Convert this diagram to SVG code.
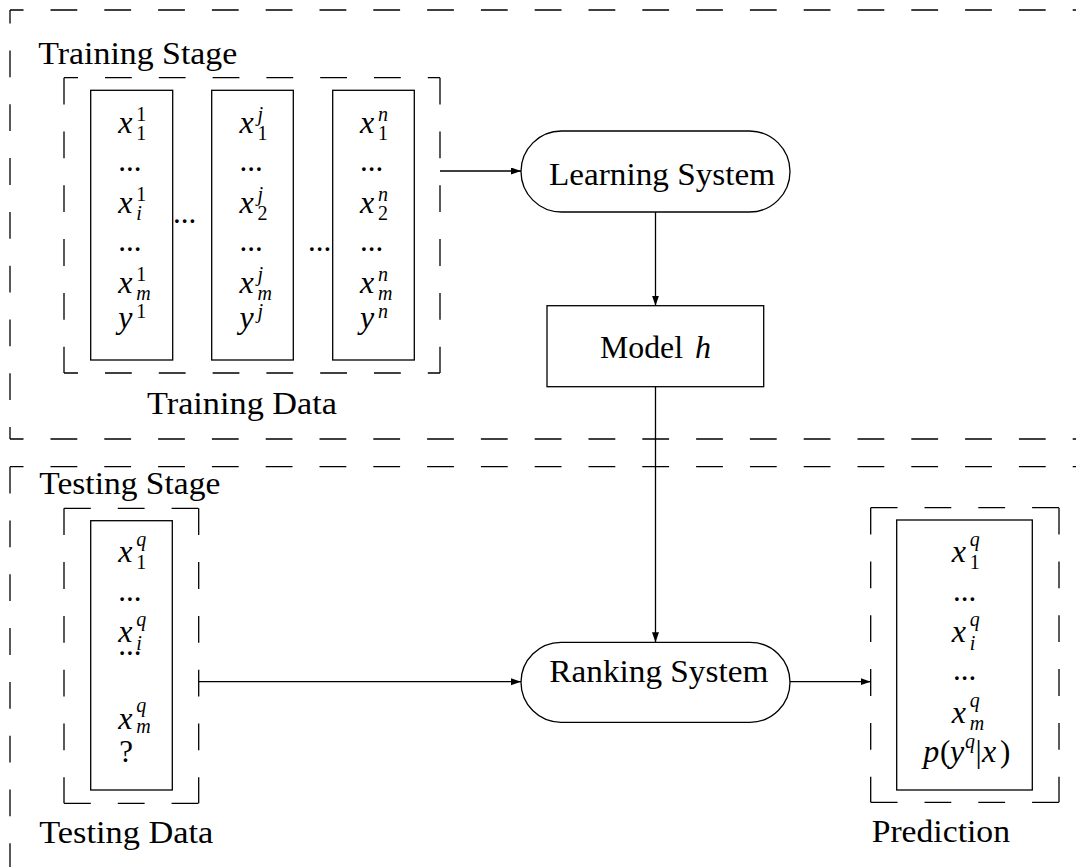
<svg xmlns="http://www.w3.org/2000/svg" width="1076" height="867" viewBox="0 0 1076 867">
<defs>
<style>
text{font-family:"Liberation Serif","DejaVu Serif",serif;fill:#000}
.lbl{font-size:32px}
.m{font-size:32px;font-style:italic}
.n{font-size:31px}
.si{font-size:20px;font-style:italic}
.sn{font-size:20px}
.d{stroke:#000;stroke-width:1.3;stroke-dasharray:26.8 27;fill:none}
.box{fill:#fff;stroke:#000;stroke-width:1.3}
.node{fill:#fff;stroke:#000;stroke-width:1.3}
.c{stroke:#000;stroke-width:1.3;fill:none}
</style>
<marker id="arr" markerUnits="userSpaceOnUse" markerWidth="11" markerHeight="8" refX="10" refY="3.5" orient="auto">
<path d="M0,0 L10,3.5 L0,7 Z" fill="#000"/>
</marker>
</defs>
<rect width="1076" height="867" fill="#fff"/>

<g id="training-stage">
<line class="d" x1="10" y1="10" x2="1100" y2="10" stroke-dashoffset="13.3"/>
<line class="d" x1="10" y1="10" x2="10" y2="439" stroke-dashoffset="13.3"/>
<line class="d" x1="10" y1="439" x2="1100" y2="439" stroke-dashoffset="13.3"/>
<text class="lbl" x="38.3" y="64" textLength="199" lengthAdjust="spacingAndGlyphs">Training Stage</text>
</g>

<g id="testing-stage">
<line class="d" x1="10" y1="466.7" x2="1100" y2="466.7" stroke-dashoffset="13.3"/>
<line class="d" x1="10" y1="466.7" x2="10" y2="900"/>
<text class="lbl" x="39.3" y="494" textLength="181" lengthAdjust="spacingAndGlyphs">Testing Stage</text>
</g>

<g id="training-data">
<line class="d" x1="64" y1="77.7" x2="440" y2="77.7" stroke-dashoffset="12.8"/>
<line class="d" x1="64" y1="373" x2="440" y2="373" stroke-dashoffset="12.8"/>
<line class="d" x1="64" y1="77.7" x2="64" y2="373"/>
<line class="d" x1="440" y1="77.7" x2="440" y2="373"/>
<rect class="box" x="90.7" y="90.3" width="82" height="269.7"/>
<rect class="box" x="211.7" y="90.3" width="81.6" height="269.7"/>
<rect class="box" x="332.7" y="90.3" width="81.6" height="269.7"/>
<text class="m" x="118.3" y="133">x</text><text class="sn" x="136.3" y="121.3">1</text><text class="sn" x="136.3" y="139.5">1</text>
<text class="n" x="118.3" y="171">...</text>
<text class="m" x="118.3" y="213">x</text><text class="sn" x="136.3" y="201.3">1</text><text class="si" x="136.3" y="219.7">i</text>
<text class="n" x="118.3" y="251">...</text>
<text class="m" x="118.3" y="293">x</text><text class="sn" x="136.3" y="281.3">1</text><text class="si" x="136.3" y="299.7">m</text>
<text class="m" x="118.3" y="328">y</text><text class="sn" x="136.3" y="318">1</text>
<text class="m" x="239.5" y="133">x</text><text class="si" x="257.5" y="121.3">j</text><text class="sn" x="257.5" y="139.5">1</text>
<text class="n" x="239.5" y="171">...</text>
<text class="m" x="239.5" y="213">x</text><text class="si" x="257.5" y="201.3">j</text><text class="sn" x="257.5" y="219.7">2</text>
<text class="n" x="239.5" y="251">...</text>
<text class="m" x="239.5" y="293">x</text><text class="si" x="257.5" y="281.3">j</text><text class="si" x="257.5" y="299.7">m</text>
<text class="m" x="239.5" y="328">y</text><text class="si" x="257.5" y="318">j</text>
<text class="m" x="360" y="133">x</text><text class="si" x="378" y="121.3">n</text><text class="sn" x="378" y="139.5">1</text>
<text class="n" x="360" y="171">...</text>
<text class="m" x="360" y="213">x</text><text class="si" x="378" y="201.3">n</text><text class="sn" x="378" y="219.7">2</text>
<text class="n" x="360" y="251">...</text>
<text class="m" x="360" y="293">x</text><text class="si" x="378" y="281.3">n</text><text class="si" x="378" y="299.7">m</text>
<text class="m" x="360" y="328">y</text><text class="si" x="378" y="318">n</text>
<text class="n" x="173" y="223">...</text>
<text class="n" x="308" y="251">...</text>
<text class="lbl" x="147" y="414" textLength="190" lengthAdjust="spacingAndGlyphs">Training Data</text>
</g>

<g id="learning-system">
<rect class="node" x="521" y="131" width="269" height="81" rx="40.5" ry="40.5"/>
<text class="lbl" x="549" y="185" textLength="226" lengthAdjust="spacingAndGlyphs">Learning System</text>
</g>

<g id="model-h">
<rect class="box" x="547" y="305.7" width="216.7" height="81"/>
<text class="lbl" x="600" y="357.7" textLength="83" lengthAdjust="spacingAndGlyphs">Model</text>
<text class="lbl" x="695" y="357.7" font-style="italic">h</text>
</g>

<g id="testing-data">
<line class="d" x1="64" y1="508.3" x2="198.7" y2="508.3"/>
<line class="d" x1="64" y1="803.3" x2="198.7" y2="803.3"/>
<line class="d" x1="64" y1="508.3" x2="64" y2="803.3"/>
<line class="d" x1="198.7" y1="508.3" x2="198.7" y2="803.3"/>
<rect class="box" x="90.7" y="520.7" width="81.6" height="269.3"/>
<text class="m" x="118.3" y="562">x</text><text class="si" x="136.3" y="546">q</text><text class="sn" x="136.3" y="569">1</text>
<text class="n" x="118.3" y="601">...</text>
<text class="m" x="118.3" y="642">x</text><text class="si" x="136.3" y="626">q</text><text class="si" x="136.3" y="650">i</text>
<text class="n" x="118.3" y="655">...</text>
<text class="m" x="118.3" y="728.5">x</text><text class="si" x="136.3" y="712">q</text><text class="si" x="136.3" y="733">m</text>
<text class="n" x="119.3" y="761.7">?</text>
<text class="lbl" x="39.3" y="843" textLength="174" lengthAdjust="spacingAndGlyphs">Testing Data</text>
</g>

<g id="ranking-system">
<rect class="node" x="521" y="642.3" width="269" height="80" rx="40" ry="40"/>
<text class="lbl" x="549.3" y="681.7" textLength="219" lengthAdjust="spacingAndGlyphs">Ranking System</text>
</g>

<g id="prediction">
<line class="d" x1="870.7" y1="507.7" x2="1059" y2="507.7"/>
<line class="d" x1="870.7" y1="802.3" x2="1059" y2="802.3"/>
<line class="d" x1="870.7" y1="507.7" x2="870.7" y2="802.3"/>
<line class="d" x1="1059" y1="507.7" x2="1059" y2="802.3"/>
<rect class="box" x="896.7" y="520" width="135.6" height="270"/>
<text class="m" x="951.7" y="561.7">x</text><text class="si" x="969.7" y="546">q</text><text class="sn" x="969.7" y="568.5">1</text>
<text class="n" x="953" y="601">...</text>
<text class="m" x="951.7" y="641.7">x</text><text class="si" x="969.7" y="626">q</text><text class="si" x="969.7" y="650">i</text>
<text class="n" x="953" y="680">...</text>
<text class="m" x="951.7" y="723.3">x</text><text class="si" x="969.7" y="707">q</text><text class="si" x="969.7" y="730">m</text>
<text class="m" x="923.3" y="762">p</text><text class="n" x="940" y="762">(</text><text class="m" x="950" y="762">y</text><text class="si" x="965" y="748">q</text><text class="n" x="975.5" y="762">|</text><text class="m" x="982" y="762">x</text><text class="n" x="1000" y="762">)</text>
<text class="lbl" x="871.7" y="841.5" textLength="138.3" lengthAdjust="spacingAndGlyphs">Prediction</text>
</g>

<g id="connectors">
<path class="c" d="M440,171 H521" marker-end="url(#arr)"/>
<path class="c" d="M655.5,212 V305.7" marker-end="url(#arr)"/>
<path class="c" d="M655.5,386.7 V642.3" marker-end="url(#arr)"/>
<path class="c" d="M198.7,681.7 H521" marker-end="url(#arr)"/>
<path class="c" d="M790,681.7 H870.7" marker-end="url(#arr)"/>
</g>
</svg>
